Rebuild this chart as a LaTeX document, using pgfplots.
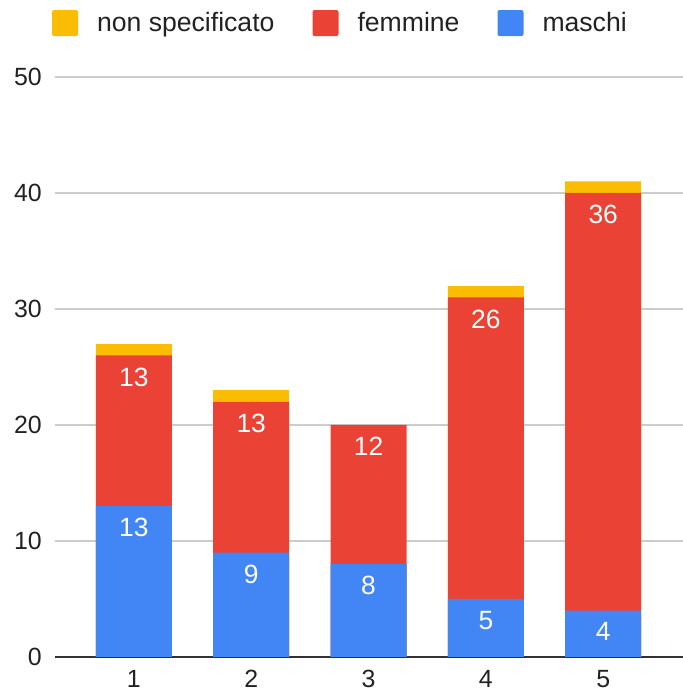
\documentclass[border=0pt]{standalone}
\usepackage{fontspec}
\setmainfont{Liberation Sans}
\usepackage{pgfplots}
\pgfplotsset{compat=1.18}
\definecolor{gblue}{HTML}{4285F4}
\definecolor{gred}{HTML}{EA4335}
\definecolor{gyellow}{HTML}{FBBC04}
\definecolor{gridgray}{HTML}{CCCCCC}
\definecolor{txt}{HTML}{222222}

\begin{document}
\begin{tikzpicture}
\useasboundingbox (0,0) rectangle (683bp,693bp);
\begin{axis}[
    at={(55bp,36bp)}, anchor=south west,
    scale only axis,
    width=628bp, height=580bp,
    ybar, bar shift=0pt,
    bar width=76bp,
    xmin=0.328, xmax=5.68,
    ymin=0, ymax=50,
    xtick={1,2,3,4,5},
    ytick={10,20,30,40,50},
    extra y ticks={0},
    extra y tick style={grid style={draw=black!80, line width=1.6bp}},
    ymajorgrids,
    grid style={draw=gridgray, line width=1.3bp},
    axis line style={draw=none},
    major tick length=0pt,
    tick style={draw=none},
    font=\fontsize{25}{30}\selectfont,
    tick label style={text=txt},
    /pgf/number format/assume math mode=true,
    xticklabel style={inner sep=0pt, anchor=north, yshift=-13bp},
    yticklabel style={inner sep=0pt, anchor=east, xshift=-13bp},
    legend columns=-1,
    legend style={
        draw=none, fill=none, inner sep=0pt,
        at={(rel axis cs:-0.005,1.093)}, anchor=west,
        font=\fontsize{26.7}{30}\selectfont,
        nodes={inner sep=0pt, text=txt},
        /tikz/every odd column/.append style={column sep=19bp},
        /tikz/every even column/.append style={column sep=38bp},
    },
    legend image code/.code={\fill[#1, rounded corners=2bp] (0bp,-13bp) rectangle (26bp,13bp);},
    every node near coord/.append style={
        text=white, inner sep=0pt, anchor=north, yshift=-12bp,
        font=\fontsize{26.5}{30}\selectfont},
]
% cumulative tops of each segment; meta = segment value
\addplot[fill=gyellow, draw=none]
    coordinates {(1,27) (2,23) (3,0) (4,32) (5,41)};
\addplot[fill=gred, draw=none, nodes near coords, point meta=explicit]
    coordinates {(1,26) [13] (2,22) [13] (3,20) [12] (4,31) [26] (5,40) [36]};
\addplot[fill=gblue, draw=none, nodes near coords, point meta=explicit]
    coordinates {(1,13) [13] (2,9) [9] (3,8) [8] (4,5) [5] (5,4) [4]};
\legend{non specificato, femmine, maschi}
\end{axis}
\end{tikzpicture}
\end{document}
